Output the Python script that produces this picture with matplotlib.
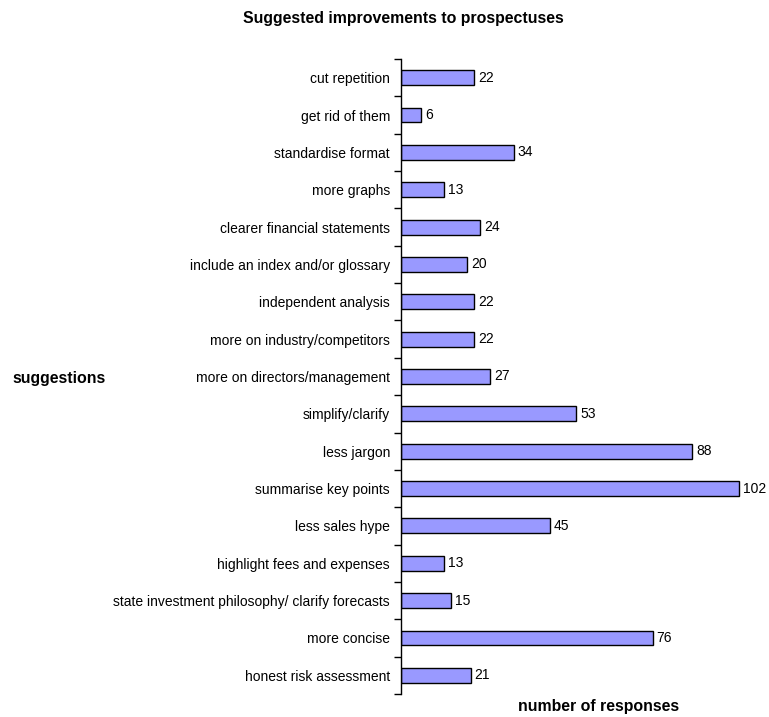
import numpy as np
import matplotlib.pyplot as plt

plt.rcParams['font.family'] = ['Liberation Sans', 'DejaVu Sans']

categories = ['cut repetition', 'get rid of them', 'standardise format', 'more graphs',
              'clearer financial statements', 'include an index and/or glossary',
              'independent analysis', 'more on industry/competitors',
              'more on directors/management', 'simplify/clarify', 'less jargon',
              'summarise key points', 'less sales hype', 'highlight fees and expenses',
              'state investment philosophy/ clarify forecasts', 'more concise',
              'honest risk assessment']
responses = [22, 6, 34, 13, 24, 20, 22, 22, 27, 53, 88, 102, 45, 13, 15, 76, 21]

fig = plt.figure(figsize=(7.69, 7.17), dpi=100)
ax = fig.add_axes([401 / 769, 1 - 694 / 717, 1 - 401 / 769 - 0.005, (694 - 59) / 717])

y = np.arange(len(categories))
bars = ax.barh(y, responses, height=0.4, color='#9999FF', edgecolor='black', linewidth=1)
for yi, v in zip(y, responses):
    ax.text(v + 1.2, yi, str(v), va='center', ha='left', fontsize=10)

ax.set_ylim(len(categories) - 0.5, -0.5)
ax.set_xlim(0, 110)
ax.set_yticks(y)
ax.set_yticklabels(categories, fontsize=10)
ax.set_yticks(np.arange(len(categories) + 1) - 0.5, minor=True)
ax.tick_params(axis='y', which='major', length=0, pad=8)
ax.tick_params(axis='y', which='minor', length=5, direction='out', width=1)
ax.set_xticks([])
for s in ['top', 'right', 'bottom']:
    ax.spines[s].set_visible(False)
ax.spines['left'].set_linewidth(1)

fig.text(403 / 769, 1 - 18 / 717, 'Suggested improvements to prospectuses', ha='center', va='center',
         fontsize=11.4, fontweight='bold')
fig.text(599 / 769, 1 - 707 / 717, 'number of responses', ha='center', va='center',
         fontsize=11.4, fontweight='bold')
fig.text(12 / 769, 1 - 378 / 717, 'suggestions', ha='left', va='center',
         fontsize=11.4, fontweight='bold')

fig.savefig('out.png', dpi=100)
